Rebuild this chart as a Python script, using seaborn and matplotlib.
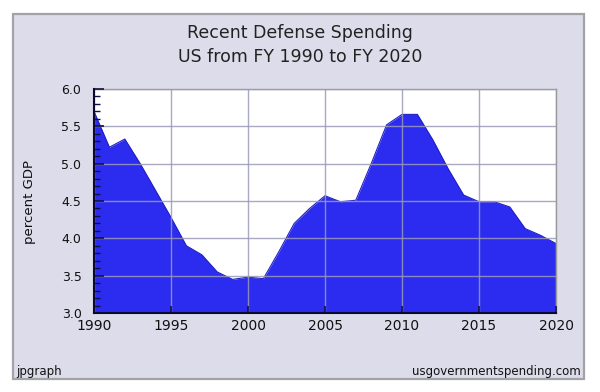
import matplotlib
matplotlib.use("Agg")
import matplotlib.pyplot as plt
from matplotlib.patches import Rectangle
from matplotlib.ticker import MultipleLocator
import seaborn as sns
import pandas as pd

# Werte (Prozent des BIP)
years = list(range(1990, 2021))
pct_gdp = [5.70, 5.22, 5.33, 5.00, 4.64, 4.28, 3.90, 3.78, 3.55, 3.45,
           3.48, 3.46, 3.82, 4.20, 4.40, 4.57, 4.49, 4.51, 5.00, 5.52,
           5.66, 5.66, 5.32, 4.93, 4.58, 4.49, 4.49, 4.42, 4.13, 4.04,
           3.93]
x_ticks = [1990, 1995, 2000, 2005, 2010, 2015, 2020]
y_ticks = [3.0, 3.5, 4.0, 4.5, 5.0, 5.5, 6.0]

df = pd.DataFrame({"year": years, "pct": pct_gdp})

plt.rcParams["font.family"] = ["DejaVu Sans"]

fig = plt.figure(figsize=(6, 3.92), dpi=100)
fig.patch.set_facecolor("white")

# lavendelfarbener Rahmen
panel = Rectangle((13 / 600, 13 / 392), 571 / 600, 365 / 392,
                  transform=fig.transFigure, facecolor="#dcdcea",
                  edgecolor="#a2a2a8", linewidth=1.6, zorder=-10)
fig.patches.append(panel)

ax = fig.add_axes([94 / 600, 79 / 392, 462 / 600, 224 / 392])
ax.set_facecolor("white")

ax.fill_between(df["year"], df["pct"], 3.0, color="#2c2cf0", linewidth=0, zorder=1)
sns.lineplot(data=df, x="year", y="pct", ax=ax, color="#2020c0", linewidth=0.8, zorder=2)

ax.set_xlim(1990, 2020)
ax.set_ylim(3.0, 6.0)
ax.set_xticks(x_ticks)
ax.set_xticklabels([str(t) for t in x_ticks])
ax.set_yticks(y_ticks)
ax.set_yticklabels([f"{t:.1f}" for t in y_ticks])
ax.yaxis.set_minor_locator(MultipleLocator(0.1))

# Gitter liegt über der Fläche
ax.grid(True, which="major", color="#9a9ab8", alpha=0.85, linewidth=1.0, zorder=3)
ax.set_axisbelow(False)

ax.tick_params(axis="y", which="major", direction="in", length=7, width=1.2,
               color="#101040", labelsize=9, pad=9, labelcolor="#111111")
ax.tick_params(axis="y", which="minor", direction="in", length=4, width=1.0,
               color="#101040")
ax.tick_params(axis="x", which="major", direction="in", length=5, width=1.2,
               color="#101040", labelsize=10, pad=4, labelcolor="#111111")

for side in ["left", "bottom"]:
    ax.spines[side].set_color("#0a0a30")
    ax.spines[side].set_linewidth(1.5)
    ax.spines[side].set_zorder(5)
for side in ["top", "right"]:
    ax.spines[side].set_color("#9a9a9a")
    ax.spines[side].set_linewidth(1.0)

ax.set_xlabel("")
ax.set_ylabel("")

fig.text(300 / 600, 1 - 33 / 392, "Recent Defense Spending", ha="center",
         va="center", fontsize=12.5, color="#222222")
fig.text(300 / 600, 1 - 57 / 392, "US from FY 1990 to FY 2020", ha="center",
         va="center", fontsize=12.5, color="#222222")
fig.text(30 / 600, 1 - 202 / 392, "percent GDP", rotation=90, ha="center",
         va="center", fontsize=9.5, color="#111111")
fig.text(16 / 600, 1 - 372 / 392, "jpgraph", ha="left", va="center",
         fontsize=8.5, color="#111111")
fig.text(581 / 600, 1 - 372 / 392, "usgovernmentspending.com", ha="right",
         va="center", fontsize=8.5, color="#111111")

fig.savefig("out.png", dpi=100)
